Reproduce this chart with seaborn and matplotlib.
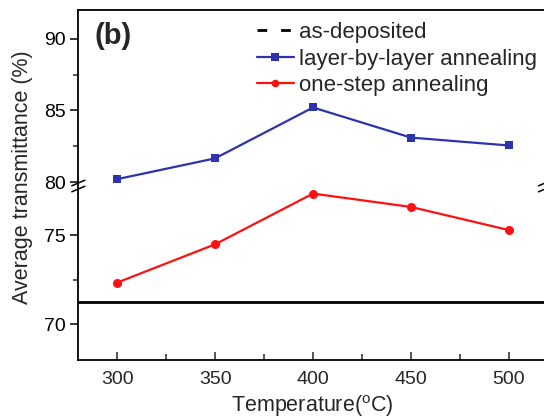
import matplotlib
matplotlib.use('Agg')
import matplotlib.pyplot as plt
import seaborn as sns
from matplotlib.lines import Line2D

temps = [300, 350, 400, 450, 500]
layer_by_layer = [80.2, 81.65, 85.2, 83.1, 82.55]
one_step = [72.35, 74.5, 77.35, 76.6, 75.3]
as_deposited = 71.25

BLUE = '#2c33ac'
RED = '#ff1010'

sns.set_style('ticks')
plt.rcParams['font.family'] = ['Liberation Sans', 'DejaVu Sans']
plt.rcParams['mathtext.fontset'] = 'custom'
plt.rcParams['mathtext.rm'] = 'Liberation Sans'


def main():
    fig = plt.figure(figsize=(5.44, 4.19), dpi=100)
    ax_lo = fig.add_axes([0.1434, 0.1408, 0.864, 0.4248])
    ax_hi = fig.add_axes([0.1434, 0.5656, 0.864, 0.4104], sharex=ax_lo)

    for ax in (ax_lo, ax_hi):
        sns.lineplot(x=temps, y=layer_by_layer, marker='s', markersize=6,
                     color=BLUE, linewidth=1.6, markeredgewidth=0, ax=ax)
        sns.lineplot(x=temps, y=one_step, marker='o', markersize=6.5,
                     color=RED, linewidth=1.6, markeredgewidth=0, ax=ax)
        ax.axhline(as_deposited, color='black', linewidth=2.0)
        for s in ax.spines.values():
            s.set_linewidth(1.3)
            s.set_color('black')
        ax.spines['right'].set_visible(False)
        ax.tick_params(axis='y', which='major', direction='out', length=6,
                       width=1.1, labelsize=14, colors='black', pad=3)
        ax.tick_params(axis='y', which='minor', direction='out', length=3.5,
                       width=1.1)
        ax.tick_params(axis='x', which='major', direction='in', length=6,
                       width=1.1, labelsize=14, pad=8)
        ax.tick_params(axis='x', which='minor', direction='in', length=4,
                       width=1.1)

    ax_lo.set_ylim(68, 78)
    ax_lo.set_yticks([70, 75])
    ax_lo.set_yticks([72.5], minor=True)
    ax_lo.spines['top'].set_visible(False)
    ax_lo.set_xlim(280, 520)
    ax_lo.set_xticks(temps)
    ax_lo.set_xticks([325, 375, 425, 475], minor=True)

    ax_hi.set_ylim(80, 92)
    ax_hi.set_yticks([80, 85, 90])
    ax_hi.set_yticks([82.5, 87.5], minor=True)
    ax_hi.spines['bottom'].set_visible(False)
    ax_hi.tick_params(axis='x', which='both', bottom=False, labelbottom=False)

    # break marks on the axis
    for yc in (0.5632, 0.5489):
        for x0, x1 in ((0.132, 0.156), (0.990, 1.014)):
            fig.add_artist(Line2D([x0, x1], [yc - 0.0066, yc + 0.0066],
                                  color='black', linewidth=1.1,
                                  transform=fig.transFigure))

    ax_hi.text(0.036, 0.849, '(b)', transform=ax_hi.transAxes, fontsize=21,
               fontweight='bold', ha='left', va='center')

    handles = [
        Line2D([], [], color='black', linestyle=(0, (3.5, 5)), linewidth=2.0),
        Line2D([], [], color=BLUE, marker='s', markersize=5.5, linewidth=1.6,
               markeredgewidth=0),
        Line2D([], [], color=RED, marker='o', markersize=5.5, linewidth=1.6,
               markeredgewidth=0),
    ]
    labels = ['as-deposited', 'layer-by-layer annealing', 'one-step annealing']
    fig.legend(handles, labels, loc='upper left',
               bbox_to_anchor=(257 / 544, 1 - 22 / 419),
               bbox_transform=fig.transFigure, frameon=False,
               fontsize=16, handlelength=1.65, handletextpad=0.25,
               labelspacing=0.25, borderaxespad=0, borderpad=0)

    fig.text(0.041, 0.576, 'Average transmittance (%)', rotation=90,
             ha='center', va='center', fontsize=15.5)
    fig.text(0.575, 7 / 419, 'Temperature($^{\\rm o}$C)', ha='center',
             va='baseline', fontsize=15.5)

    fig.savefig('out.png', dpi=100)
    plt.close(fig)


if __name__ == '__main__':
    main()
